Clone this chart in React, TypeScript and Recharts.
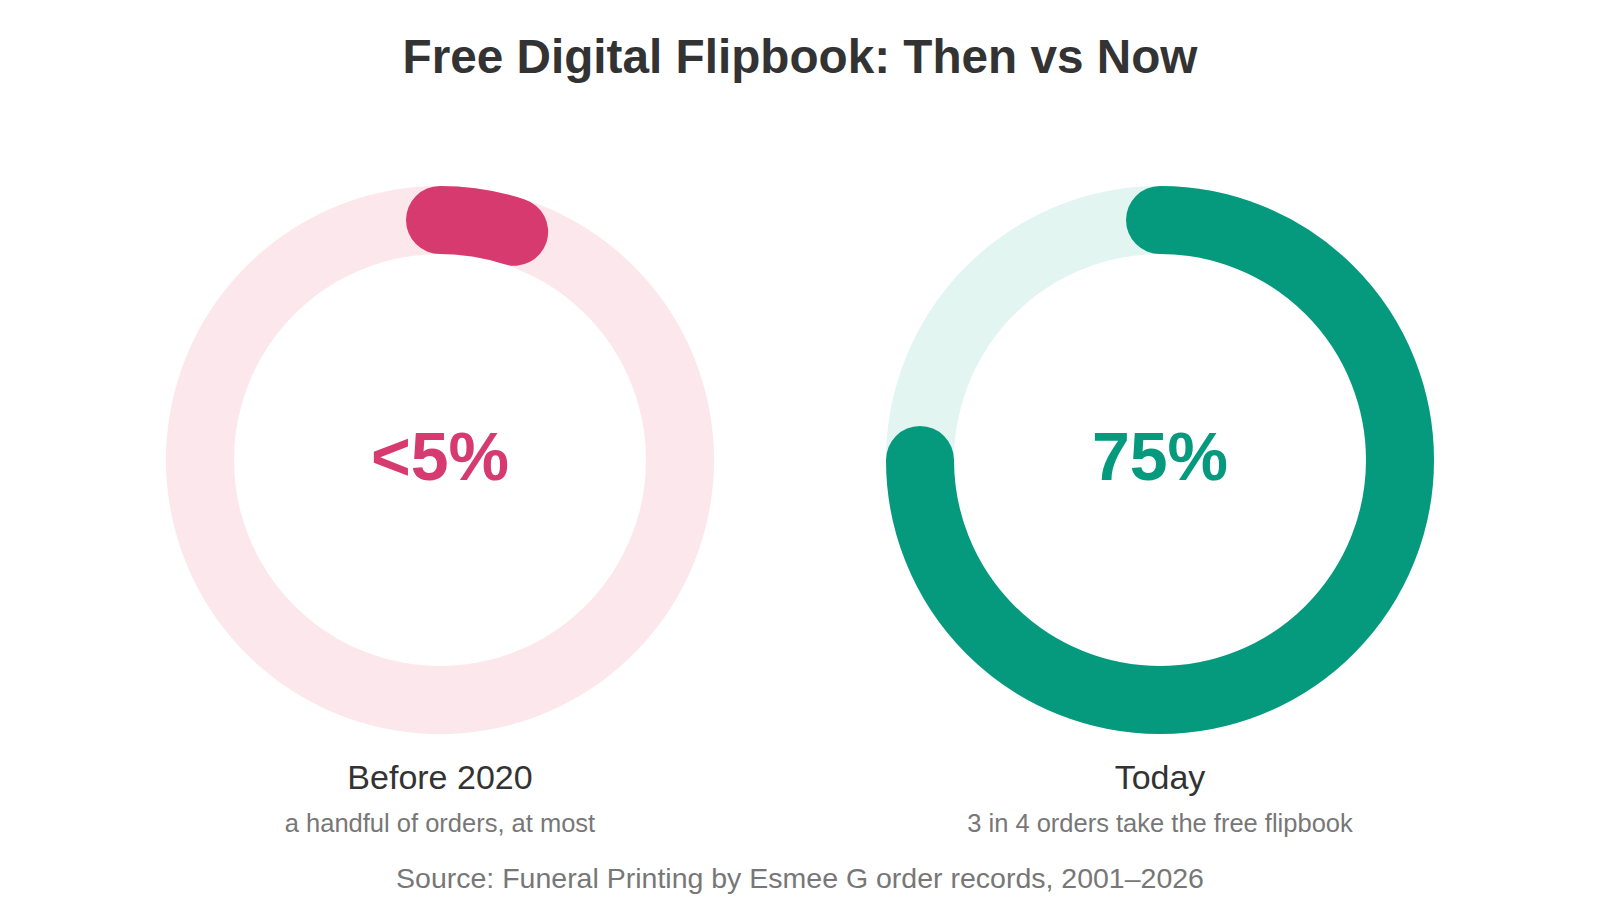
import React from "react";
import { PieChart, Pie, Cell } from "recharts";

const panelNames = ["Before 2020", "Today"];
const panelNotes = ["a handful of orders, at most", "3 in 4 orders take the free flipbook"];
const panelValues = [5, 75];
const panelLabels = ["<5%", "75%"];
const panelColors = ["#D63A6F", "#059A7E"];
const trackColors = ["#FCE7EC", "#E2F5F0"];
const centersX = [440, 1160];

const CY = 460;
const INNER = 206;
const OUTER = 274;
const FONT = "'Liberation Sans', Arial, Helvetica, sans-serif";

const RAD = Math.PI / 180;

function arcShape(color: string) {
  return (props: any) => {
    const kind = props.kind ?? props.payload?.kind;
    if (kind !== "value") return <g />;
    const { cx, cy, innerRadius, outerRadius, startAngle, endAngle } = props;
    const r = (innerRadius + outerRadius) / 2;
    const w = outerRadius - innerRadius;
    const x1 = cx + r * Math.cos(startAngle * RAD);
    const y1 = cy - r * Math.sin(startAngle * RAD);
    const x2 = cx + r * Math.cos(endAngle * RAD);
    const y2 = cy - r * Math.sin(endAngle * RAD);
    const delta = Math.abs(startAngle - endAngle);
    const large = delta > 180 ? 1 : 0;
    const sweep = endAngle < startAngle ? 1 : 0;
    return (
      <path
        d={`M ${x1} ${y1} A ${r} ${r} 0 ${large} ${sweep} ${x2} ${y2}`}
        fill="none"
        stroke={color}
        strokeWidth={w}
        strokeLinecap="round"
      />
    );
  };
}

export default function App() {
  return (
    <div style={{ position: "absolute", left: 0, top: 0, width: 1600, height: 920, background: "#fff" }}>
      <PieChart width={1600} height={920} margin={{ top: 0, right: 0, bottom: 0, left: 0 }}>
        {panelValues.map((v, i) => (
          <Pie
            key={`track-${i}`}
            data={[{ name: "track", value: 100 }]}
            dataKey="value"
            cx={centersX[i]}
            cy={CY}
            innerRadius={INNER}
            outerRadius={OUTER}
            startAngle={90}
            endAngle={-270}
            stroke="none"
            isAnimationActive={false}
          >
            <Cell fill={trackColors[i]} />
          </Pie>
        ))}
        {panelValues.map((v, i) => (
          <Pie
            key={`value-${i}`}
            data={[
              { name: panelNames[i], kind: "value", value: v },
              { name: "rest", kind: "rest", value: 100 - v },
            ]}
            dataKey="value"
            cx={centersX[i]}
            cy={CY}
            innerRadius={INNER}
            outerRadius={OUTER}
            startAngle={90}
            endAngle={-270}
            stroke="none"
            isAnimationActive={false}
            shape={arcShape(panelColors[i])}
          >
            <Cell fill={panelColors[i]} />
            <Cell fill="transparent" />
          </Pie>
        ))}
        <text x={800} y={73} textAnchor="middle" fontFamily={FONT} fontWeight="bold" fontSize={47.7} fill="#333333">
          Free Digital Flipbook: Then vs Now
        </text>
        {panelValues.map((v, i) => (
          <g key={`txt-${i}`}>
            <text x={centersX[i]} y={480} textAnchor="middle" fontFamily={FONT} fontWeight="bold" fontSize={68} fill={panelColors[i]}>
              {panelLabels[i]}
            </text>
            <text x={centersX[i]} y={789} textAnchor="middle" fontFamily={FONT} fontSize={34} fill="#333333">
              {panelNames[i]}
            </text>
            <text x={centersX[i]} y={832} textAnchor="middle" fontFamily={FONT} fontSize={25.5} fill="#777777">
              {panelNotes[i]}
            </text>
          </g>
        ))}
        <text x={800} y={888} textAnchor="middle" fontFamily={FONT} fontSize={28.5} fill="#777777">
          Source: Funeral Printing by Esmee G order records, 2001–2026
        </text>
      </PieChart>
    </div>
  );
}
